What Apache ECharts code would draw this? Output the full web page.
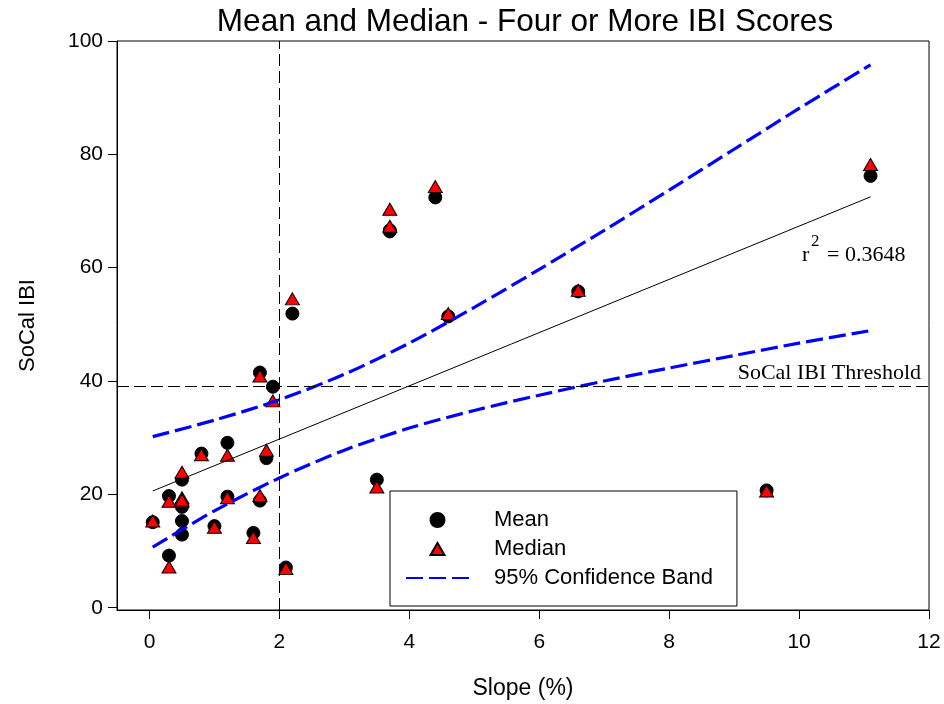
<!DOCTYPE html>
<html><head><meta charset="utf-8">
<script src="https://cdn.jsdelivr.net/npm/echarts@6/dist/echarts.min.js"></script>
<style>html,body{margin:0;padding:0;background:#fff}#c{width:944px;height:704px}</style>
</head><body><div id="c"></div>
<script>
// Data
const slope     = [0.05, 0.3, 0.3, 0.5, 0.5, 0.5, 0.5, 0.8, 1.0, 1.2, 1.2, 1.6, 1.7, 1.7, 1.8, 1.9, 2.1, 2.2, 3.5, 3.7, 3.7, 4.4, 4.6, 6.6, 9.5, 11.1];
const meanIBI   = [15.1, 19.7, 9.2, 22.6, 17.8, 15.3, 12.9, 27.2, 14.4, 29.1, 19.6, 13.2, 41.5, 18.9, 26.4, 39.0, 7.1, 51.9, 22.6, 66.4, 66.6, 72.4, 51.4, 55.8, 20.7, 76.2];
const medianIBI = [15.3, 18.8, 7.2, 23.9, 19.4, 18.8, 19.0, 27.0, 14.2, 26.9, 19.4, 12.4, 40.9, 19.8, 27.8, 36.5, 6.9, 54.5, 21.3, 67.3, 70.3, 74.3, 51.9, 56.0, 20.6, 78.2];
const bandX     = [0.05, 1, 2, 3, 4, 5, 6, 7, 8, 9, 10, 11.1];
const bandUpper = [30.2, 33.1, 36.7, 41.2, 46.7, 53.0, 59.7, 66.6, 73.7, 80.9, 88.1, 95.8];
const bandLower = [10.7, 17.1, 22.9, 27.8, 31.7, 34.8, 37.5, 40.0, 42.3, 44.5, 46.7, 48.9];
const fitX = [0.05, 11.1];
const fitY = [20.6, 72.5];
const threshold = 39;
const slopeCut = 2;
const xTicks = [0, 2, 4, 6, 8, 10, 12];
const yTicks = [0, 20, 40, 60, 80, 100];

const zip = (a, b) => a.map((v, i) => [v, b[i]]);
const SANS = 'Liberation Sans';
const SERIF = 'Liberation Serif';

const chart = echarts.init(document.getElementById('c'), null, {renderer: 'canvas'});
chart.setOption({
  animation: false,
  backgroundColor: '#fff',
  title: {
    text: 'Mean and Median - Four or More IBI Scores',
    left: 525, top: 6, padding: 0, textAlign: 'center',
    textStyle: {fontFamily: SANS, fontSize: 31.5, fontWeight: 'normal', color: '#000'}
  },
  grid: {left: 117, right: 15, top: 41, bottom: 94, show: true, borderColor: '#000', borderWidth: 1, containLabel: false, outerBoundsMode: 'none'},
  legend: {
    data: [
      {name: 'Mean', icon: 'circle'},
      {name: 'Median', icon: 'path://M0,0M63,14M24.5,13L31.5,1L38.5,13Z'},
      {name: '95% Confidence Band', itemStyle: {opacity: 0}}
    ],
    orient: 'vertical', left: 390, top: 491,
    padding: [18, 24, 17, 15],
    borderColor: '#000', borderWidth: 1,
    itemWidth: 63, itemHeight: 14, itemGap: 7,
    selectedMode: false,
    textStyle: {fontFamily: SANS, fontSize: 22, color: '#000', lineHeight: 21, padding: [0, 0, 0, 20]}
  },
  xAxis: {
    type: 'value', min: -0.5, max: 12,
    name: 'Slope (%)', nameLocation: 'middle', nameGap: 67,
    nameTextStyle: {fontFamily: SANS, fontSize: 23, color: '#000'},
    axisLine: {show: true, onZero: false, lineStyle: {color: '#000', width: 1}},
    axisTick: {show: true, inside: false, length: 9, customValues: xTicks, lineStyle: {color: '#000'}},
    axisLabel: {customValues: xTicks, margin: 22, fontFamily: SANS, fontSize: 21, color: '#000'},
    splitLine: {show: false}
  },
  yAxis: {
    type: 'value', min: -0.4, max: 100,
    name: 'SoCal IBI', nameLocation: 'middle', nameGap: 78,
    nameTextStyle: {fontFamily: SANS, fontSize: 22, color: '#000'},
    axisLine: {show: true, onZero: false, lineStyle: {color: '#000', width: 1}},
    axisTick: {show: true, inside: false, length: 9, customValues: yTicks, lineStyle: {color: '#000'}},
    axisLabel: {customValues: yTicks, margin: 14, fontFamily: SANS, fontSize: 21, color: '#000'},
    splitLine: {show: false}
  },
  series: [
    {
      name: 'Mean', type: 'scatter', data: zip(slope, meanIBI),
      symbol: 'circle', symbolSize: 13,
      itemStyle: {color: '#000', borderColor: '#000', borderWidth: 1, opacity: 1}
    },
    {
      name: 'Median', type: 'scatter', data: zip(slope, medianIBI),
      symbol: 'triangle', symbolSize: [14, 12],
      itemStyle: {color: '#ff0000', borderColor: '#000', borderWidth: 1, opacity: 1}
    },
    {
      name: '95% Confidence Band', type: 'line', data: zip(bandX, bandUpper),
      symbol: 'none', showSymbol: false, smooth: 0.3,
      lineStyle: {color: '#0000ff', width: 3.2, type: [17, 6]},
      itemStyle: {color: '#0000ff', opacity: 0}
    },
    {
      name: '95% Confidence Band', type: 'line', data: zip(bandX, bandLower),
      symbol: 'none', showSymbol: false, smooth: 0.3,
      lineStyle: {color: '#0000ff', width: 3.2, type: [17, 6]},
      itemStyle: {color: '#0000ff', opacity: 0}
    },
    {
      name: 'Regression', type: 'line', data: zip(fitX, fitY),
      symbol: 'none', showSymbol: false,
      lineStyle: {color: '#000', width: 1},
      markLine: {
        silent: true, symbol: 'none', animation: false,
        lineStyle: {color: '#000', width: 1, type: [12, 5]},
        data: [
          {yAxis: threshold, label: {show: true, position: 'insideEndTop', formatter: 'SoCal IBI Threshold',
            fontFamily: SERIF, fontSize: 22, color: '#000', distance: [8, 2]}},
          {xAxis: slopeCut, label: {show: false}}
        ]
      }
    }
  ],
  graphic: [
    {type: 'text', left: 802, top: 244, style: {text: 'r', font: '22px "Liberation Serif"', fill: '#000'}},
    {type: 'text', left: 811, top: 233, style: {text: '2', font: '17px "Liberation Serif"', fill: '#000'}},
    {type: 'text', left: 827, top: 244, style: {text: '= 0.3648', font: '22px "Liberation Serif"', fill: '#000'}}
  ]
});
</script>
</body></html>
